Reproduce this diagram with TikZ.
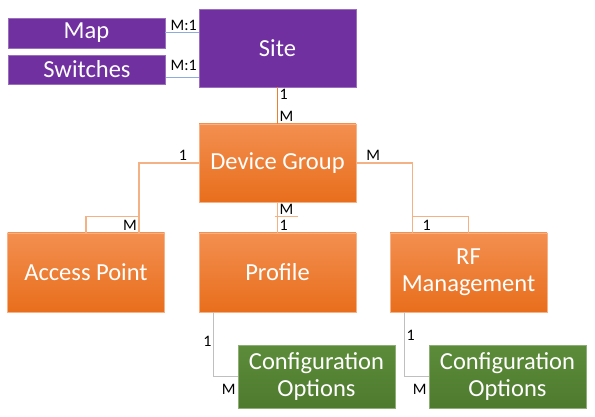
\documentclass[tikz,border=0pt]{standalone}
\usepackage{fontspec}
\setmainfont{Carlito}
\usetikzlibrary{positioning}
\definecolor{sitepurple}{RGB}{112,48,160}
\definecolor{orTop}{RGB}{243,143,80}
\definecolor{orBot}{RGB}{232,110,28}
\definecolor{grTop}{RGB}{92,140,58}
\definecolor{grBot}{RGB}{78,122,46}
\definecolor{linkblue}{RGB}{143,170,220}
\definecolor{linkorange}{RGB}{244,177,131}
\definecolor{linkdark}{RGB}{237,125,49}
\definecolor{linkgray}{RGB}{191,191,191}

\begin{document}
\begin{tikzpicture}[
        x=1pt,y=-1pt,
        box/.style={font=\color{white}\fontsize{24.5}{27}\selectfont,align=center,inner sep=0pt,minimum width=157pt},
        purplebox/.style={box,fill=sitepurple,draw=sitepurple!70!white,line width=0.6pt},
        orangebox/.style={box,top color=orTop,bottom color=orBot,draw=orTop!70!white,line width=0.6pt,minimum height=79pt},
        greenbox/.style={box,top color=grTop,bottom color=grBot,draw=grTop!70!white,line width=0.6pt,minimum height=63pt},
        lbl/.style={font=\fontsize{16}{18}\selectfont,inner sep=1.5pt},
        blink/.style={draw=linkblue,line width=1pt},
        olink/.style={draw=linkorange,line width=1.2pt},
        dlink/.style={draw=linkdark,line width=1.4pt},
        glink/.style={draw=linkgray,line width=1.2pt}
    ]
    \useasboundingbox (0,0) rectangle (595,417);
    % purple row
    \node[purplebox,minimum height=30pt] (map) at (86.5,33) {Map};
    \node[purplebox,minimum height=29pt] (sw) at (87,69.5) {Switches};
    \node[purplebox,minimum height=78pt] (site) at (277.5,48) {Site};
    % orange rows
    \node[orangebox,minimum height=78pt] (dg) at (277.5,163) {Device Group};
    \node[orangebox] (ap) at (86,272.5) {Access Point};
    \node[orangebox] (pr) at (277.5,272.5) {Profile};
    \node[orangebox] (rf) at (468.5,272.5) {RF\\Management};
    % green row
    \node[greenbox] (co1) at (316.5,376.5) {Configuration\\Options};
    \node[greenbox] (co2) at (507.5,376.5) {Configuration\\Options};

    \draw[blink] (map.east) -- node[lbl,pos=1,above left]{M:1} (map.east -| site.west);
    \draw[blink] ([yshift=-8.5pt]sw.east) -- node[lbl,pos=1,above left,yshift=5pt]{M:1} ([yshift=-8.5pt]sw.east -| site.west);
    \draw[dlink] (site) -- node[lbl,pos=0,below right]{1} node[lbl,pos=1,above right]{M} (dg);

    \draw[olink] (dg.west) -| node[lbl,pos=0.08,above left]{1} node[lbl,pos=1,above left]{M} ([xshift=53pt]ap.north);
    \draw[olink] (ap.north) -- ++(0,-16) -| ([xshift=53pt]ap.north);
    \draw[olink] (dg) -- node[lbl,pos=0,below right]{M} node[lbl,pos=1,above right]{1} (pr);
    \draw[olink] ([xshift=-3pt,yshift=16pt]pr.north) -- ++(23,0);
    \draw[olink] (dg.east) -| node[lbl,pos=0.07,above right]{M} node[lbl,pos=1,above right,xshift=8pt]{1} ([xshift=-56pt]rf.north);
    \draw[olink] (rf.north) -- ++(0,-16) -| ([xshift=-56pt]rf.north);

    \draw[glink] ([xshift=-64pt]pr.south) |- node[lbl,pos=0.23,left]{1} node[lbl,pos=1,below left,yshift=-6pt]{M} (co1.west);
    \draw[glink] ([xshift=-64pt]rf.south) |- node[lbl,pos=0.18,right]{1} node[lbl,pos=1,below left,yshift=-6pt]{M} (co2.west);
\end{tikzpicture}
\end{document}
